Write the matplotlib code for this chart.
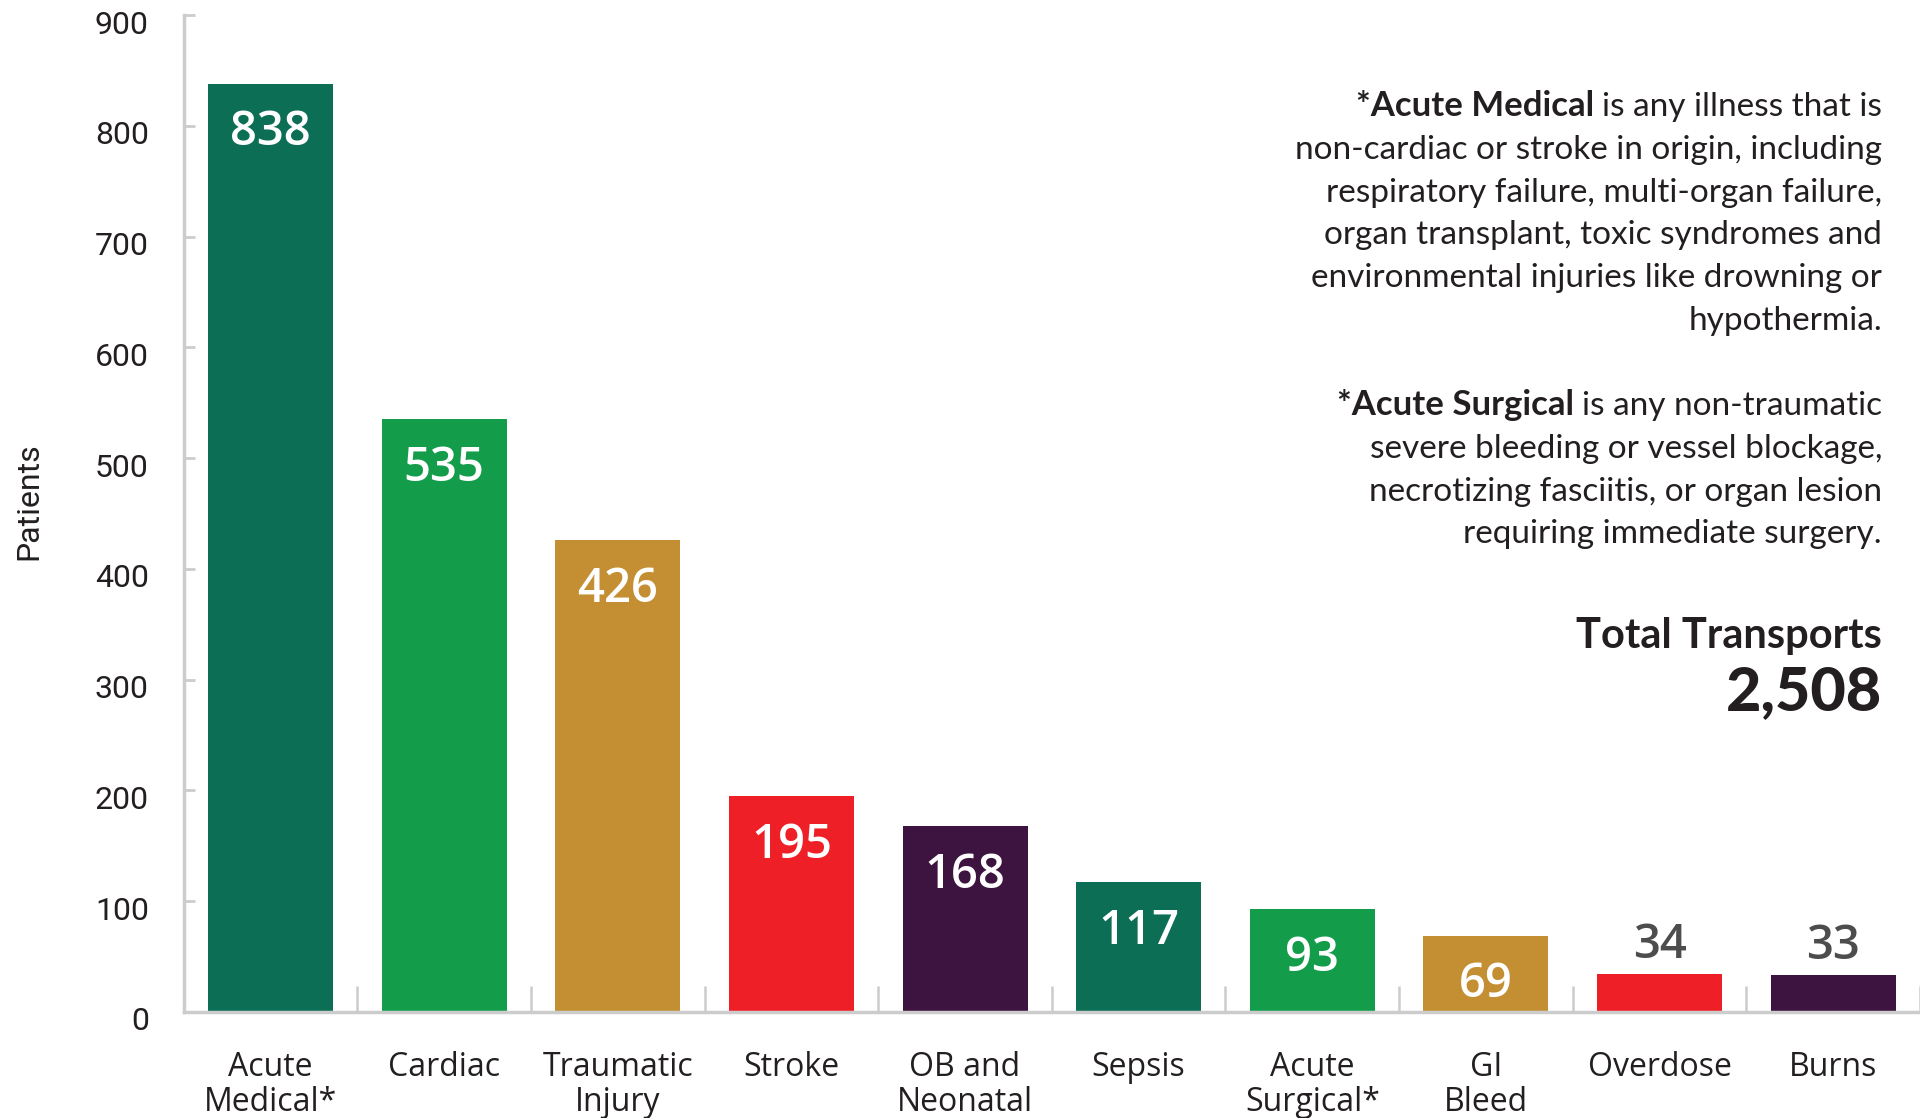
import matplotlib
matplotlib.use("Agg")
import matplotlib.pyplot as plt
from matplotlib.transforms import ScaledTranslation

categories = ["Acute\nMedical*", "Cardiac", "Traumatic\nInjury", "Stroke", "OB and\nNeonatal",
              "Sepsis", "Acute\nSurgical*", "GI\nBleed", "Overdose", "Burns"]
patients = [838, 535, 426, 195, 168, 117, 93, 69, 34, 33]
bar_colors = ["#0d6e56", "#139d4b", "#c48f33", "#ee1f27", "#3d1340",
              "#0d6e56", "#139d4b", "#c48f33", "#ee1f27", "#3d1340"]
yticks = [0, 100, 200, 300, 400, 500, 600, 700, 800, 900]

medical_note = ["is any illness that is",
                "non-cardiac or stroke in origin, including",
                "respiratory failure, multi-organ failure,",
                "organ transplant, toxic syndromes and",
                "environmental injuries like drowning or",
                "hypothermia."]
surgical_note = ["is any non-traumatic",
                 "severe bleeding or vessel blockage,",
                 "necrotizing fasciitis, or organ lesion",
                 "requiring immediate surgery."]
total_label = "Total Transports"
total_value = "2,508"

DPI = 100
W, H = 1920, 1118
TEXT = "#231f20"
GRID = "#cccccc"

fig = plt.figure(figsize=(W / DPI, H / DPI), dpi=DPI)
ax = fig.add_axes([183.7 / W, 1 - 1012 / H, (W - 183.7) / W, (1012 - 15) / H])

x = list(range(len(categories)))
ax.bar(x, patients, width=0.72, color=bar_colors, zorder=2)
ax.set_xlim(-0.5, 9.44)
ax.set_ylim(0, 900)

for s in ["top", "right"]:
    ax.spines[s].set_visible(False)
for s in ["left", "bottom"]:
    ax.spines[s].set_color(GRID)
    ax.spines[s].set_linewidth(2.5)

# y axis
ax.set_yticks(yticks)
ax.set_yticklabels([str(v) for v in yticks], fontsize=23, color=TEXT, family="Roboto")
ax.tick_params(axis="y", direction="in", length=8, width=2, color=GRID, pad=25)
for lab in ax.get_yticklabels():
    lab.set_transform(lab.get_transform() + ScaledTranslation(0, -7 / DPI, fig.dpi_scale_trans))
ax.set_ylabel("Patients", fontsize=23, color=TEXT, family="Roboto")
ax.yaxis.set_label_coords(-0.081, 0.512)

# x axis
ax.set_xticks(x)
ax.set_xticklabels(categories, fontsize=23, color=TEXT, family="Open Sans", linespacing=1.1)
ax.tick_params(axis="x", which="major", length=0, pad=28)
ax.set_xticks([i + 0.5 for i in range(len(categories))], minor=True)
ax.tick_params(axis="x", which="minor", direction="in", length=19, width=1.8, color=GRID)

# value labels
for xi, v in zip(x, patients):
    if v > 60:
        ax.annotate(str(v), (xi, v), xytext=(0, -35.5), textcoords="offset points",
                    ha="center", va="center", color="white", fontsize=34,
                    family="Open Sans", fontweight="semibold")
    else:
        ax.annotate(str(v), (xi, v), xytext=(0, 21), textcoords="offset points",
                    ha="center", va="center", color="#4d4d4d", fontsize=34,
                    family="Open Sans", fontweight="semibold")

# notes on the right
renderer = fig.canvas.get_renderer()
xr = 1882
note_font = dict(family="Lato", fontsize=24, color=TEXT)


def note_block(bold, lines, y0, step=42.8):
    for i, line in enumerate(lines):
        y = 1 - (y0 + step * i) / H
        t = fig.text(xr / W, y, line, ha="right", va="baseline", **note_font)
        if i == 0:
            w = t.get_window_extent(renderer).width
            fig.text((xr - w - 8) / W, y, bold, ha="right", va="baseline",
                     fontweight="bold", family="Lato", fontsize=25, color=TEXT)


note_block("*Acute Medical", medical_note, 116)
note_block("*Acute Surgical", surgical_note, 415)

fig.text(xr / W, 1 - 648 / H, total_label, ha="right", va="baseline",
         family="Lato", fontsize=30, fontweight="bold", color=TEXT)
fig.text(xr / W, 1 - 710 / H, total_value, ha="right", va="baseline",
         family="Lato", fontsize=44, fontweight="black", color=TEXT)

fig.savefig("out.png", dpi=DPI)
